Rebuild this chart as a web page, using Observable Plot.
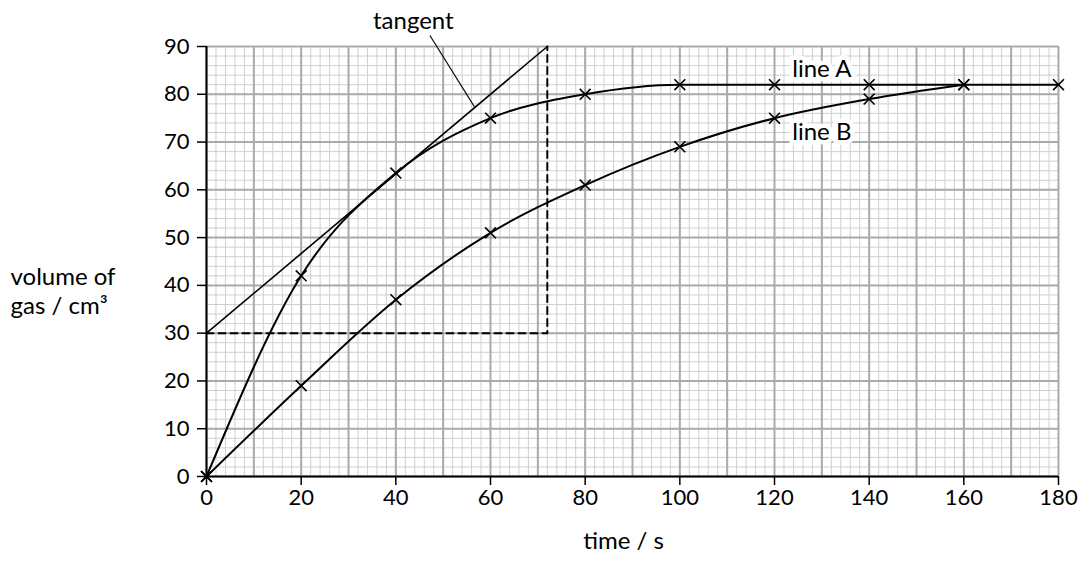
<!DOCTYPE html>
<html><head><meta charset="utf-8">
<script src="https://cdn.jsdelivr.net/npm/d3@7"></script>
<script src="https://cdn.jsdelivr.net/npm/@observablehq/plot@0.6"></script>
<style>body{margin:0;background:#fff}</style>
</head><body><div id="chart"></div>
<script>
const timeS = [0, 20, 40, 60, 80, 100, 120, 140, 160, 180];
const lineA = [0, 42, 63.5, 75, 80, 82, 82, 82, 82, 82];
const timeB = [0, 20, 40, 60, 80, 100, 120, 140, 160];
const lineB = [0, 19, 37, 51, 61, 69, 75, 79, 82];
const tangentX = [0, 72];
const tangentY = [30, 90];
const dashX = [0, 72, 72];
const dashY = [30, 30, 90];
const xTicks = [0, 20, 40, 60, 80, 100, 120, 140, 160, 180];
const yTicks = [0, 10, 20, 30, 40, 50, 60, 70, 80, 90];
const xMinor = d3.range(0, 181, 2);
const yMinor = d3.range(0, 91, 2);
const xMajor = d3.range(0, 181, 10);
const yMajor = d3.range(0, 91, 10);
const labels = [
  {x: 130, y: 85.2, text: "line A"},
  {x: 130, y: 72, text: "line B"}
];
const tangentLabel = [{x: 43.7, y: 95.2, text: "tangent"}];
const leader = [{x1: 47.2, y1: 92.3, x2: 56.6, y2: 77.4}];

const A = timeS.map((t, i) => ({t, v: lineA[i]}));
const B = timeB.map((t, i) => ({t, v: lineB[i]}));
const tan = tangentX.map((x, i) => ({x, y: tangentY[i]}));
const dash = dashX.map((x, i) => ({x, y: dashY[i]}));
const font = "Lato, 'Open Sans', sans-serif";

const chart = Plot.plot({
  width: 1085, height: 561,
  marginLeft: 206, marginRight: 27, marginTop: 46, marginBottom: 85,
  style: {fontFamily: font, fontSize: "22px", background: "white", color: "black"},
  x: {domain: [0, 180]},
  y: {domain: [0, 90]},
  marks: [
    Plot.ruleX(xMinor, {stroke: "#cfcfcf", strokeWidth: 1}),
    Plot.ruleY(yMinor, {stroke: "#cfcfcf", strokeWidth: 1}),
    Plot.ruleX(xMajor, {stroke: "#aaaaaa", strokeWidth: 2}),
    Plot.ruleY(yMajor, {stroke: "#aaaaaa", strokeWidth: 2}),
    Plot.axisX({ticks: xTicks, tickSize: 9, tickPadding: 4, fontSize: 22, label: null, strokeWidth: 1.5}),
    Plot.axisY({ticks: yTicks, tickSize: 9, tickPadding: 8, fontSize: 22, label: null, strokeWidth: 1.5}),
    Plot.ruleX([0], {stroke: "black", strokeWidth: 2}),
    Plot.ruleY([0], {stroke: "black", strokeWidth: 2}),
    Plot.line(dash, {x: "x", y: "y", stroke: "black", strokeWidth: 2, strokeDasharray: "7,5"}),
    Plot.line(tan, {x: "x", y: "y", stroke: "black", strokeWidth: 1.6}),
    Plot.line(A, {x: "t", y: "v", curve: "monotone-x", stroke: "black", strokeWidth: 2}),
    Plot.line(B, {x: "t", y: "v", curve: "monotone-x", stroke: "black", strokeWidth: 2}),
    Plot.dot(A, {x: "t", y: "v", symbol: "times", r: 5, stroke: "black", strokeWidth: 1.6}),
    Plot.dot(B, {x: "t", y: "v", symbol: "times", r: 5, stroke: "black", strokeWidth: 1.6}),
    Plot.link(leader, {x1: "x1", y1: "y1", x2: "x2", y2: "y2", stroke: "black", strokeWidth: 1.2}),
    Plot.text(tangentLabel, {x: "x", y: "y", text: "text", fontSize: 24, fill: "black"}),
    Plot.text(labels, {x: "x", y: "y", text: "text", fontSize: 24, fill: "black", stroke: "white", strokeWidth: 9, strokeLinejoin: "miter"}),
    Plot.text(["volume of\ngas / cm³"], {y: 39, frameAnchor: "left", dx: -196, textAnchor: "start", fontSize: 24, lineHeight: 1.2, fill: "black"}),
    Plot.text(["time / s"], {x: 88.1, frameAnchor: "bottom", dy: 72, fontSize: 24, fill: "black"})
  ]
});
document.getElementById("chart").appendChild(chart);
</script>
</body></html>
